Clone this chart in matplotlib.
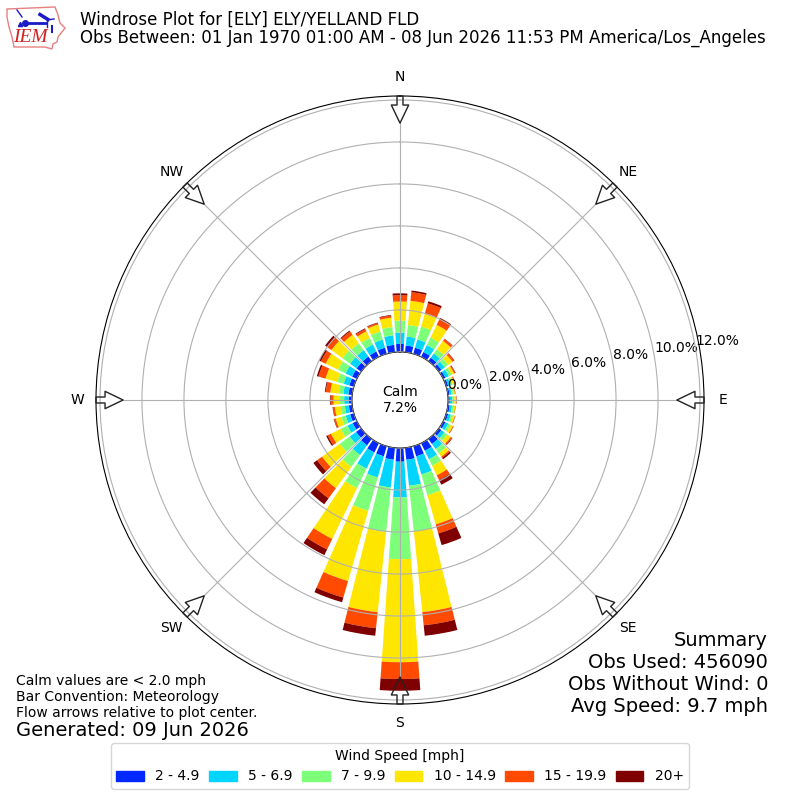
import numpy as np
import matplotlib
matplotlib.use('Agg')
import matplotlib.pyplot as plt
from matplotlib.patches import Patch, Polygon

# direction bars, every 10 degrees starting from north
directions = np.arange(0, 360, 10)

# cumulative percent at the top of each speed bin
top_2_5 = [.38, .32, .30, .25, .20, .15, .12, .10, .08, .08, .09, .10, .12, .15, .30, .40, .50, .57,
           .65, .57, .50, .49, .38, .30, .22, .18, .16, .16, .18, .22, .25, .27, .27, .28, .30, .35]
top_5_7 = [.92, .75, .71, .62, .45, .35, .30, .22, .18, .20, .20, .23, .27, .33, .60, .85, 1.40, 1.82,
           2.35, 1.90, 1.55, 1.35, .95, .67, .50, .40, .35, .37, .42, .50, .60, .65, .65, .65, .70, .80]
top_7_10 = [1.49, 1.30, 1.35, 1.02, .70, .55, .45, .33, .27, .30, .30, .34, .40, .50, .85, 1.20, 2.43, 4.00,
            5.29, 4.03, 3.20, 2.38, 1.65, 1.26, .85, .62, .55, .57, .65, .82, 1.00, 1.10, 1.05, 1.00, 1.10, 1.20]
top_10_15 = [2.40, 2.46, 1.98, 1.69, 1.19, .80, .58, .42, .34, .38, .36, .43, .52, .70, 1.05, 1.70, 3.87, 7.87,
             10.20, 7.87, 6.68, 5.07, 2.90, 2.30, 1.37, .90, .83, .88, 1.05, 1.40, 1.65, 1.75, 1.55, 1.35, 1.45, 1.65]
top_15_20 = [2.70, 2.87, 2.50, 2.00, 1.30, .90, .64, .46, .36, .40, .37, .45, .55, .77, 1.12, 1.95, 4.32, 8.50,
             11.00, 8.64, 7.50, 5.63, 3.50, 2.59, 1.55, .98, .92, 1.02, 1.27, 1.75, 1.90, 2.00, 1.75, 1.47, 1.52, 1.75]
top_20 = [2.79, 2.95, 2.60, 2.06, 1.32, .92, .66, .47, .37, .41, .38, .46, .56, .80, 1.20, 2.20, 4.90, 9.00,
          11.56, 9.00, 7.73, 5.93, 3.85, 2.81, 1.62, 1.00, .94, 1.05, 1.31, 1.83, 2.00, 2.12, 1.80, 1.51, 1.55, 1.78]

speed_tops = [top_2_5, top_5_7, top_7_10, top_10_15, top_15_20, top_20]
speed_labels = ['2 - 4.9', '5 - 6.9', '7 - 9.9', '10 - 14.9', '15 - 19.9', '20+']
speed_colors = ['#0028ff', '#00d4ff', '#7dff7a', '#ffe600', '#ff4a00', '#7f0000']

compass = ['N', 'NE', 'E', 'SE', 'S', 'SW', 'W', 'NW']
compass_deg = [0, 45, 90, 135, 180, 225, 270, 315]
r_ticks = [0, 2, 4, 6, 8, 10, 12]

fig = plt.figure(figsize=(8, 8), dpi=100)
ax = fig.add_axes([0.12, 0.12, 0.76, 0.76], polar=True)
ax.set_theta_zero_location('N')
ax.set_theta_direction(-1)

# stacked bars
theta = np.deg2rad(directions)
bottom = np.zeros(len(directions))
for tops, color in zip(speed_tops, speed_colors):
    tops = np.array(tops)
    ax.bar(theta, tops - bottom, width=np.deg2rad(8), bottom=bottom, color=color, linewidth=0)
    bottom = tops

ax.set_axisbelow(False)
ax.grid(True)
ax.set_thetagrids(compass_deg, compass)
ax.xaxis.grid(False)
ax.tick_params(axis='x', pad=3)
ax.set_rticks(r_ticks)
ax.set_yticklabels(['%.1f%%' % r for r in r_ticks])
ax.set_rlabel_position(80)

# flow arrows pointing to the plot center, spokes stop at the arrow tip
arrow_tip = 10.9
for d in compass_deg:
    t = np.deg2rad(d)
    ax.plot([t, t], [0, arrow_tip], color='#b0b0b0', linewidth=0.8, zorder=2.5)
    ax.annotate('', xy=(t, arrow_tip), xytext=(t, 12.19), annotation_clip=False,
                arrowprops=dict(facecolor='none', edgecolor='#222222',
                                width=4.3, headwidth=12.5, headlength=13, shrink=0, linewidth=1))

ax.set_rorigin(-2.29)
ax.set_rmin(0)
ax.set_rmax(12.19)

ax.text(0.5, 0.5, 'Calm\n7.2%', transform=ax.transAxes, ha='center', va='center', fontsize=10)

fig.text(0.1, 0.964, 'Windrose Plot for [ELY] ELY/YELLAND FLD\n'
         'Obs Between: 01 Jan 1970 01:00 AM - 08 Jun 2026 11:53 PM America/Los_Angeles',
         ha='left', va='center', fontsize=12, linespacing=1.0)
fig.text(0.96, 0.105, 'Summary\nObs Used: 456090\nObs Without Wind: 0\nAvg Speed: 9.7 mph',
         ha='right', va='bottom', fontsize=14)
fig.text(0.02, 0.1, 'Calm values are < 2.0 mph\nBar Convention: Meteorology\n'
         'Flow arrows relative to plot center.', ha='left', va='bottom', fontsize=10)
fig.text(0.02, 0.0875, 'Generated: 09 Jun 2026', ha='left', va='center', fontsize=14)

handles = [Patch(color=c, label=l) for c, l in zip(speed_colors, speed_labels)]
fig.legend(handles=handles, loc='lower center', bbox_to_anchor=(0.5, 0.005), ncol=6,
           title='Wind Speed [mph]', fontsize=10, columnspacing=0.68)

# IEM logo
logo = fig.add_axes([0, 0.925, 0.09, 0.075])
logo.set_xlim(0, 72)
logo.set_ylim(60, 0)
logo.axis('off')
logo.add_patch(Polygon([(7, 9), (55, 7), (58, 15), (60, 23), (65, 28), (58, 37), (57, 42), (53, 44),
                        (52, 49), (45, 47), (14, 47), (12, 37), (9, 27), (7, 17)],
                       closed=True, facecolor='white', edgecolor='#e88080', linewidth=1))
logo.plot([25, 46], [23, 23], color='#1a1ac8', linewidth=2)
logo.plot([40, 48], [14.5, 19.5], color='#1a1ac8', linewidth=2.5)
logo.plot([17, 22], [10, 17], color='#1a1ac8', linewidth=1)
logo.plot([47, 47], [18, 27], color='#1a1ac8', linewidth=1)
logo.plot([47, 54], [20, 19], color='#1a1ac8', linewidth=1)
logo.plot([52, 52], [26, 32], color='#1a1ac8', linewidth=1.5)
logo.plot([25], [23], 'o', color='#1a1ac8', markersize=4)
logo.plot([20], [24], '^', color='#1a1ac8', markersize=3)
logo.text(30, 37, 'IEM', color='#d02020', family='Liberation Serif', style='italic',
          fontsize=14, ha='center', va='center')

plt.savefig('out.png', dpi=100)
